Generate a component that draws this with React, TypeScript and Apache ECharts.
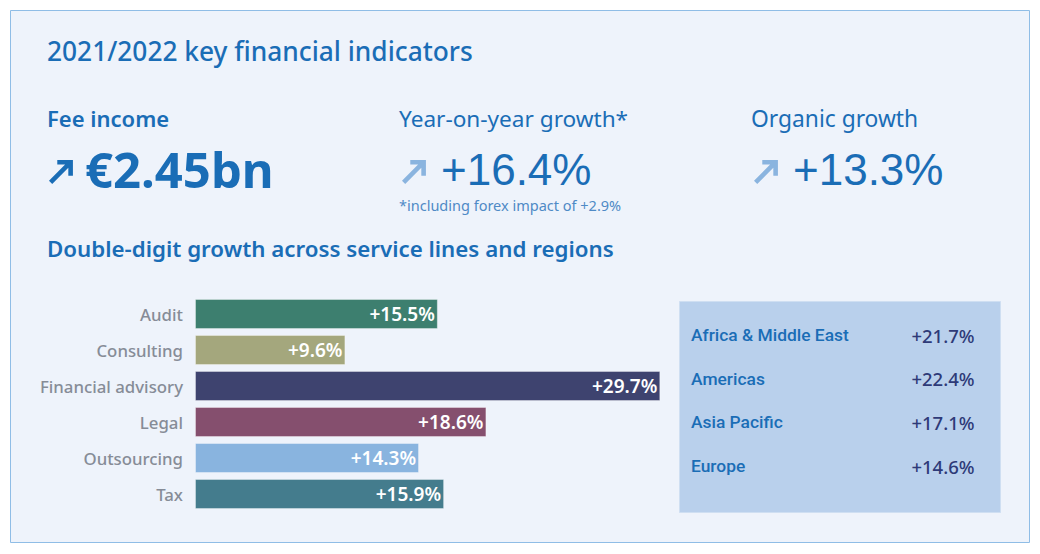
import React, { useEffect, useRef } from "react";
import * as echarts from "echarts";

const serviceLines = ["Audit", "Consulting", "Financial advisory", "Legal", "Outsourcing", "Tax"];
const serviceGrowth = [15.5, 9.6, 29.7, 18.6, 14.3, 15.9];
const serviceColors = ["#3d7f6f", "#a4a77d", "#3e436f", "#854f6e", "#89b4df", "#447c8d"];

const regions = ["Africa & Middle East", "Americas", "Asia Pacific", "Europe"];
const regionGrowth = ["+21.7%", "+22.4%", "+17.1%", "+14.6%"];

const kpiTitles = ["Fee income", "Year-on-year growth*", "Organic growth"];
const kpiValues = ["€2.45bn", "+16.4%", "+13.3%"];

const BLUE = "#1a6db6";
const LIGHT = "#8ab4df";
const FONT = "'Noto Sans', sans-serif";
const NUMFONT = "'Liberation Sans', Arial, sans-serif";

const arrowPath = "M26 0 L26 17 L21 17 L21 8.5 L3.5 26 L0 22.5 L17.5 5 L9 5 L9 0 Z";
echarts.graphic.registerShape("arrowUp", echarts.graphic.extendPath(arrowPath, {}) as any);

export default function App() {
  const ref = useRef<HTMLDivElement>(null);
  useEffect(() => {
    if (!ref.current) return;
    const chart = echarts.init(ref.current, null, { renderer: "svg" });

    const kpiX = [47, 399, 751];
    const arrowColors = [BLUE, LIGHT, LIGHT];
    const valueX = [85, 441, 793];
    const titleSizes = [22, 22.6, 22.8];
    const valueFonts = [`700 49px ${FONT}`, `400 44px ${NUMFONT}`, `400 44px ${NUMFONT}`];
    const valueY = [169, 169, 169];
    const graphics: any[] = [
      {
        type: "rect", z: -10, silent: true,
        shape: { x: 10.5, y: 10.5, width: 1019, height: 532 },
        style: { fill: "#eef3fb", stroke: "#8fbde6", lineWidth: 1 },
      },
      {
        type: "text", left: 47, top: 38,
        style: { text: "2021/2022 key financial indicators", fill: BLUE, font: `500 26.3px ${FONT}` },
      },
      {
        type: "text", left: 47, top: 237,
        style: { text: "Double-digit growth across service lines and regions", fill: BLUE, font: `600 22.3px ${FONT}` },
      },
      {
        type: "text", x: 399, y: 205,
        style: {
          text: "*including forex impact of +2.9%", fill: "#4f8ac6", font: `400 14.5px ${FONT}`,
          verticalAlign: "middle", align: "left", lineHeight: 16,
        },
      },
      {
        type: "rect", z: -5,
        shape: { x: 679.5, y: 301.5, width: 321, height: 211 },
        style: { fill: "#b9d0ec", stroke: "#cfdff2", lineWidth: 1 },
      },
    ];
    kpiTitles.forEach((t, i) => {
      graphics.push({
        type: "text", left: kpiX[i], top: 107,
        style: { text: t, fill: BLUE, font: `${i === 0 ? 600 : 400} ${titleSizes[i]}px ${FONT}` },
      });
      graphics.push({
        type: "arrowUp", x: kpiX[i] + (i === 0 ? 2 : 3), y: 160, scaleX: 0.92, scaleY: 0.92,
        style: { fill: arrowColors[i] },
      });
      graphics.push({
        type: "text", x: valueX[i], y: valueY[i],
        style: {
          text: kpiValues[i], fill: BLUE, font: valueFonts[i],
          verticalAlign: "middle", align: "left", lineHeight: 38,
        },
      });
    });
    regions.forEach((r, i) => {
      const cy = 335 + i * 43.7;
      graphics.push({
        type: "text", x: 691, y: cy,
        style: { text: r, fill: BLUE, font: `500 17.4px Roboto, sans-serif`, verticalAlign: "middle", align: "left" },
      });
      graphics.push({
        type: "text", x: 943, y: cy,
        style: { text: regionGrowth[i], fill: "#2e3a78", font: `500 18.5px ${FONT}`, verticalAlign: "middle", align: "center" },
      });
    });

    chart.setOption({
      animation: false,
      backgroundColor: "#ffffff",
      graphic: graphics,
      grid: { left: 195, top: 296, width: 470, height: 216, containLabel: false },
      xAxis: { type: "value", min: 0, max: 30, show: false },
      yAxis: {
        type: "category", data: serviceLines, inverse: true,
        axisLine: { show: false }, axisTick: { show: false },
        axisLabel: { color: "#868c97", fontSize: 16.8, fontWeight: 500, fontFamily: FONT, margin: 12 },
      },
      series: [{
        type: "bar",
        barWidth: 30,
        data: serviceGrowth.map((v, i) => ({
          value: v,
          itemStyle: { color: serviceColors[i], borderColor: "rgba(255,255,255,0.35)", borderWidth: 1 },
        })),
        label: {
          show: true, position: "insideRight", distance: 3,
          color: "#ffffff", fontSize: 19, fontWeight: 600, fontFamily: FONT,
          formatter: (p: any) => "+" + p.value.toFixed(1) + "%",
        },
      }],
    });
    return () => chart.dispose();
  }, []);
  return <div ref={ref} style={{ position: "absolute", left: 0, top: 0, width: 1040, height: 554 }} />;
}
